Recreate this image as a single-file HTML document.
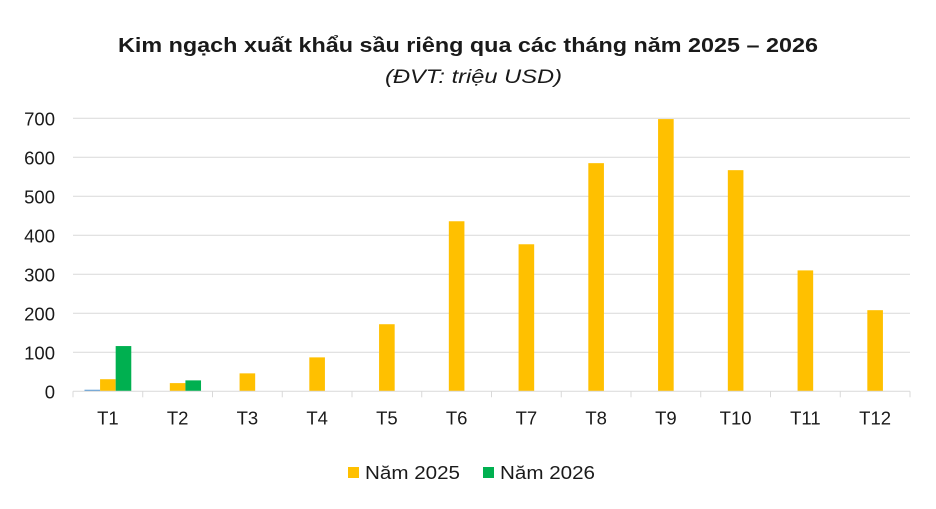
<!DOCTYPE html>
<html><head><meta charset="utf-8"><style>
body{margin:0;background:#fff;font-family:"Liberation Sans",sans-serif}
svg text{font-family:"Liberation Sans",sans-serif;fill:#1a1a1a}
</style></head><body>
<svg id="c" width="936" height="504" xmlns="http://www.w3.org/2000/svg">
<text x="118" y="52" font-size="20.5" font-weight="bold" textLength="700" lengthAdjust="spacingAndGlyphs">Kim ngạch xuất khẩu sầu riêng qua các tháng năm 2025 – 2026</text>
<text x="385" y="83" font-size="19" font-style="italic" textLength="177" lengthAdjust="spacingAndGlyphs">(ĐVT: triệu USD)</text>
<g id="grid"></g><g id="bars"></g><g id="axis"></g>
<g>
<rect x="348" y="467" width="11" height="11" fill="#FFC000"/>
<text x="365" y="479" font-size="18.5" textLength="95" lengthAdjust="spacingAndGlyphs">Năm 2025</text>
<rect x="483" y="467" width="11" height="11" fill="#00B050"/>
<text x="500" y="479" font-size="18.5" textLength="95" lengthAdjust="spacingAndGlyphs">Năm 2026</text>
</g>
</svg>
<script>
const categories=["T1","T2","T3","T4","T5","T6","T7","T8","T9","T10","T11","T12"];
const hidden=[4,0,0,0,0,0,0,0,0,0,0,0];
const y2025=[31,21,46,87,172,436,377,585,698,567,310,208];
const y2026=[116,28,0,0,0,0,0,0,0,0,0,0];
const yTicks=[0,100,200,300,400,500,600,700];
const NS="http://www.w3.org/2000/svg";
const X0=73,X1=910,Y0=391.3,PER=0.39;
const bw=(X1-X0)/categories.length;
const yS=v=>Y0-v*PER;
function mk(t,a,p){const e=document.createElementNS(NS,t);for(const k in a)e.setAttribute(k,a[k]);p.appendChild(e);return e;}
const grid=document.getElementById('grid'),bars=document.getElementById('bars'),axis=document.getElementById('axis');
yTicks.forEach(v=>{
 if(v>0){const l=mk('line',{x1:X0,x2:X1,y1:yS(v),y2:yS(v),stroke:'#d9d9d9','stroke-width':1},grid);
 
 }
 const t=mk('text',{x:55,y:yS(v)+7,'text-anchor':'end','font-size':18.5},axis);t.textContent=v;
 
 
});
const al=mk('line',{x1:X0,x2:X1,y1:Y0,y2:Y0,stroke:'#d9d9d9','stroke-width':1},axis);


const series=[[hidden,'#5B9BD5','hidden'],[y2025,'#FFC000','2025'],[y2026,'#00B050','2026']];
const w=15.6,off=(bw-3*w)/2;
categories.forEach((c,i)=>{
 const x=X0+i*bw;
 const tk=mk('line',{x1:x,x2:x,y1:Y0,y2:Y0+6,stroke:'#d9d9d9'},axis);
 
 
 const t=mk('text',{x:x+bw/2,y:Y0+33,'text-anchor':'middle','font-size':18.5},axis);t.textContent=c;
 
 
 series.forEach((s,j)=>{const v=s[0][i];if(!v)return;
  const r=mk('rect',{x:x+off+j*w,y:yS(v),width:w,height:v*PER,fill:s[1]},bars);
  
  });
});
const lt=mk('line',{x1:X1,x2:X1,y1:Y0,y2:Y0+6,stroke:'#d9d9d9'},axis);


</script>
</body></html>
